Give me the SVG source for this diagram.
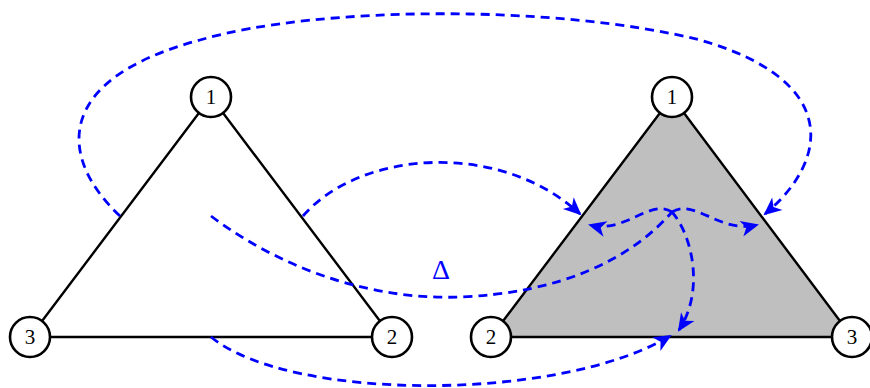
<svg xmlns="http://www.w3.org/2000/svg" width="870" height="388" viewBox="0 0 870 388">
<style>
.edge{stroke:#000;stroke-width:2.4;fill:none;stroke-linejoin:round}
.node circle{fill:#fff;stroke:#000;stroke-width:2.6}
.node text{font-family:"Liberation Serif","DejaVu Serif",serif;font-size:21px;fill:#000;text-anchor:middle}
.conn path{fill:none;stroke:#0000ff;stroke-width:2.8;stroke-dasharray:9,6}
.arr{marker-end:url(#stealth)}
.lbl{font-family:"Liberation Serif","DejaVu Serif",serif;font-size:28px;fill:#0000ff;text-anchor:middle}
</style>
<defs>
<marker id="stealth" markerUnits="userSpaceOnUse" markerWidth="40" markerHeight="40" refX="0" refY="0" orient="auto" overflow="visible">
<path d="M2,0 L-16,-8 L-11,0 L-16,8 Z" fill="#0000ff" stroke="none"/>
</marker>
</defs>
<rect width="870" height="388" fill="#fff"/>
<g id="triangle-left">
<path class="edge" d="M211,97 L30,337 L392,337 Z"/>
</g>
<g id="triangle-right">
<path d="M672,97 L491,337 L852,337 Z" fill="#bfbfbf" stroke="#000" stroke-width="2.4" stroke-linejoin="round"/>
</g>
<g id="connectors" class="conn">
<path class="arr" d="M120,216 C60,160 50,80 200,40 C320,5 560,5 700,40 C840,80 830,160 765,214"/>
<path class="arr" d="M303,216 C360,150 500,140 580,214"/>
<path d="M211,216 C290,275 380,300 460,297 C560,293 630,260 672,212"/>
<path class="arr" d="M211,337 C290,402 560,402 670,336"/>
<path class="arr" d="M672,212 C650,198 625,234 590,225"/>
<path class="arr" d="M672,212 C695,198 720,234 757,225"/>
<path class="arr" d="M672,212 C692,235 705,290 679,330"/>
</g>
<text class="lbl" x="441" y="279">Δ</text>
<g id="L1" class="node"><circle cx="211" cy="97" r="20"/><text x="211" y="104">1</text></g>
<g id="L2" class="node"><circle cx="392" cy="337" r="20"/><text x="392" y="344">2</text></g>
<g id="L3" class="node"><circle cx="30" cy="337" r="20"/><text x="30" y="344">3</text></g>
<g id="R1" class="node"><circle cx="672" cy="97" r="20"/><text x="672" y="104">1</text></g>
<g id="R2" class="node"><circle cx="491" cy="337" r="20"/><text x="491" y="344">2</text></g>
<g id="R3" class="node"><circle cx="852" cy="337" r="20"/><text x="852" y="344">3</text></g>
</svg>
